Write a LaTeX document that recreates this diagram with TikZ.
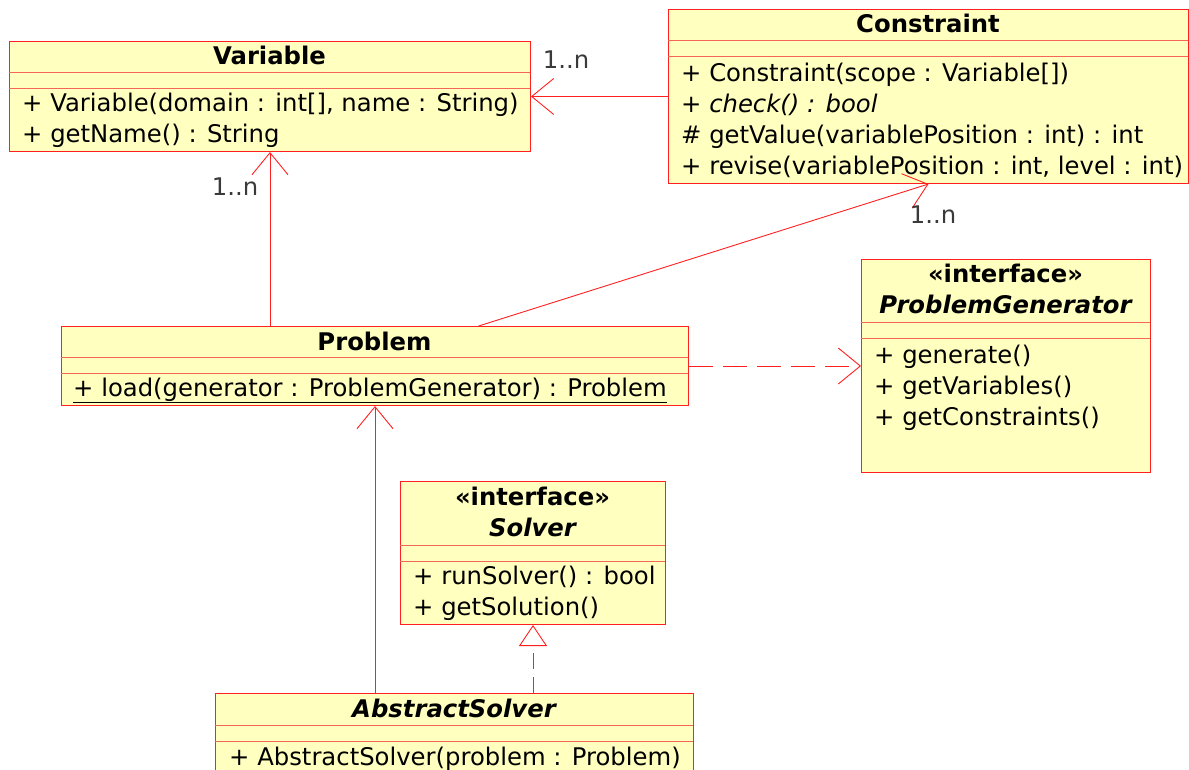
\documentclass[tikz,border=0pt]{standalone}
\usepackage{fontspec}
\setmainfont{DejaVu Sans}
\usetikzlibrary{arrows.meta,positioning,calc}
\definecolor{umlred}{HTML}{FF2020}
\definecolor{umlsep}{HTML}{F4665A}
\definecolor{umlfill}{HTML}{FFFFC0}
\definecolor{umlgrey}{HTML}{3A3A3A}
\begin{document}
\begin{tikzpicture}[x=1pt, y=-1pt, >=Latex,
  cls/.style={draw=umlred, fill=umlfill, line width=1pt, anchor=north west, inner sep=0pt},
  sep/.style={umlsep, line width=1pt},
  ttl/.style={anchor=base, inner sep=0pt, font=\fontsize{24.3}{31}\selectfont\bfseries},
  ops/.style={anchor=base west, align=left, inner sep=0pt, font=\fontsize{24.3}{31}\selectfont},
  mult/.style={text=umlgrey, inner sep=0pt, font=\fontsize{24.3}{31}\selectfont},
  assoc/.style={-{Straight Barb[length=22pt, width=36pt]}, umlred, line width=0.9pt},
  dep/.style={assoc, dash pattern=on 24pt off 10pt},
  real/.style={-{Triangle[length=21pt, width=28pt, fill=white]}, umlred, line width=0.9pt, dash pattern=on 16pt off 8pt}]
  \useasboundingbox (0,0) rectangle (1189,769);
  % ---------- Variable ----------
  \node[cls, minimum width=521pt, minimum height=110pt] (var) at (9,41) {};
  \node[ttl] (varN) at (269.5,64) {Variable};
  \draw[sep] (9,72) -- (530,72) (9,88) -- (530,88);
  \node[ops] (varO) at (22,142) {+ Variable(domain : int[], name : String)\\+ getName() : String};
  % ---------- Constraint ----------
  \node[cls, minimum width=520pt, minimum height=174pt] (con) at (668,9) {};
  \node[ttl] (conN) at (928,32) {Constraint};
  \draw[sep] (668,40) -- (1188,40) (668,56) -- (1188,56);
  \node[ops] (conO) at (681,174) {+ Constraint(scope : Variable[])\\\textit{+ check() : bool}\\\# getValue(variablePosition : int) : int\\+ revise(variablePosition : int, level : int)};
  % ---------- ProblemGenerator ----------
  \node[cls, minimum width=289pt, minimum height=213pt] (gen) at (861,259) {};
  \node[ttl] (genS) at (1005.5,282) {«interface»};
  \node[ttl, font=\fontsize{24.3}{31}\selectfont\bfseries\itshape] (genN) at (1005.5,313) {ProblemGenerator};
  \draw[sep] (861,322) -- (1150,322) (861,338) -- (1150,338);
  \node[ops] (genO) at (874,425) {+ generate()\\+ getVariables()\\+ getConstraints()};
  % ---------- Problem ----------
  \node[cls, minimum width=627pt, minimum height=79pt] (prob) at (61,326) {};
  \node[ttl] (probN) at (374.5,350) {Problem};
  \draw[sep] (61,357) -- (688,357) (61,373) -- (688,373);
  \node[ops] (probO) at (73,396) {\underline{+ load(generator : ProblemGenerator) : Problem}};
  % ---------- Solver ----------
  \node[cls, minimum width=265pt, minimum height=143pt] (sol) at (400,481) {};
  \node[ttl] (solS) at (532.5,505) {«interface»};
  \node[ttl, font=\fontsize{24.3}{31}\selectfont\bfseries\itshape] (solN) at (532.5,536) {Solver};
  \draw[sep] (400,545) -- (665,545) (400,561) -- (665,561);
  \node[ops] (solO) at (413,615) {+ runSolver() : bool\\+ getSolution()};
  % ---------- AbstractSolver ----------
  \node[cls, minimum width=478pt, minimum height=100pt] (abs) at (215,693) {};
  \node[ttl, font=\fontsize{24.3}{31}\selectfont\bfseries\itshape] (absN) at (454,717) {AbstractSolver};
  \draw[sep] (215,725) -- (693,725) (215,741) -- (693,741);
  \node[ops] (absO) at (229,765) {+ AbstractSolver(problem : Problem)};
  % ---------- relations ----------
  \draw[assoc] (con.west |- var.east) -- (var.east);
  \node[mult] (m1) at (566,60) {1..n};
  \draw[assoc] (prob.north -| var.south) -- (var.south);
  \node[mult] (m2) at (235,187) {1..n};
  \draw[assoc] ($(prob.north west)!0.665!(prob.north east)$) -- (con.south);
  \node[mult] (m3) at (933,215) {1..n};
  \draw[dep] (prob.east) -- (gen.west |- prob.east);
  \draw[assoc] (abs.north -| prob.south) -- (prob.south);
  \draw[real] (abs.north -| sol.south) -- (sol.south);
\end{tikzpicture}
\end{document}
